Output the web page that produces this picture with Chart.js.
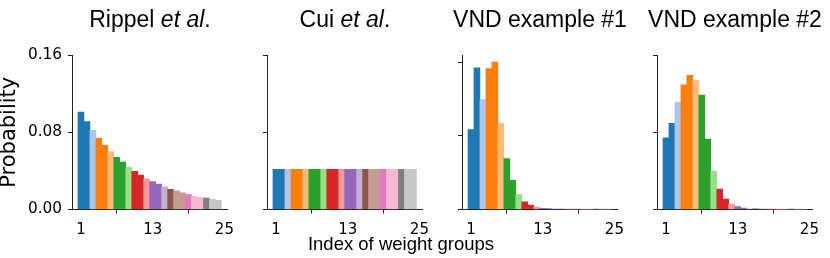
<!DOCTYPE html>
<html><head><meta charset="utf-8">
<script src="https://cdn.jsdelivr.net/npm/chart.js@4.4.0/dist/chart.umd.min.js"></script>
<style>
html,body{margin:0;padding:0;background:#fff;width:830px;height:258px;overflow:hidden;position:relative}
.p{position:absolute;top:0}
#xlabel{position:absolute;left:251px;width:300px;top:233px;line-height:22px;text-align:center;font-family:"Liberation Sans",Arial,sans-serif;font-size:18.5px;color:#000;white-space:nowrap}
</style></head><body>
<div class="p" id="w0"><canvas id="c0"></canvas></div>
<div class="p" id="w1"><canvas id="c1"></canvas></div>
<div class="p" id="w2"><canvas id="c2"></canvas></div>
<div class="p" id="w3"><canvas id="c3"></canvas></div>
<div id="xlabel">Index of weight groups</div>
<script>
// ---- data ----
const groupIndex = [1,2,3,4,5,6,7,8,9,10,11,12,13,14,15,16,17,18,19,20,21,22,23,24];
const rippel = [0.101,0.091,0.082,0.074,0.0665,0.060,0.054,0.049,0.0436,0.0394,0.0357,0.0318,0.029,0.0263,0.0235,0.021,0.0193,0.0172,0.0154,0.0137,0.0127,0.0117,0.0106,0.0096];
const cui = [0.0417,0.0417,0.0417,0.0417,0.0417,0.0417,0.0417,0.0417,0.0417,0.0417,0.0417,0.0417,0.0417,0.0417,0.0417,0.0417,0.0417,0.0417,0.0417,0.0417,0.0417,0.0417,0.0417,0.0417];
const vnd1 = [0.087,0.154,0.1196,0.1533,0.1604,0.0935,0.0554,0.0318,0.0166,0.0083,0.0047,0.0025,0.0014,0.001,0.0006,0.0004,0.0003,0.0002,0.0002,0.0001,0.0001,0.0001,0.0001,0.0001];
const vnd2 = [0.0743,0.0892,0.1113,0.129,0.139,0.1338,0.1186,0.0729,0.0397,0.0211,0.0107,0.0055,0.0031,0.0014,0.0008,0.0006,0.0005,0.0003,0.0002,0.0002,0.0001,0.0001,0.0001,0.0001];
const colorIndex = [0,0,1,2,2,3,4,4,5,6,6,7,8,8,9,10,11,11,12,13,13,14,15,15];
const palette = ['#1f77b4','#aec7e8','#ff7f0e','#ffbb78','#2ca02c','#98df8a','#d62728','#ff9896','#9467bd','#c5b0d5','#8c564b','#c49c94','#e377c2','#f7b6d2','#7f7f7f','#c7c7c7'];
const titleParts = [
  [{text:'Rippel ',italic:false},{text:'et al',italic:true},{text:'.',italic:false}],
  [{text:'Cui ',italic:false},{text:'et al',italic:true},{text:'.',italic:false}],
  [{text:'VND example #1',italic:false}],
  [{text:'VND example #2',italic:false}]
];
const xTickValues = [1,13,25];
const xTickLabels = ['1','13','25'];
const yTickValues = [0,0.08,0.16];
const yTickLabels = ['0.00','0.08','0.16'];
const yLabel = 'Probability';
const yMax = [0.16,0.16,0.168,0.16];

// ---- layout ----
const series = [rippel,cui,vnd1,vnd2];
const axisLeft = [72,267,462,657];
const plotW = 167;
const AX = '#222';

const panelTitle = {
  id:'panelTitle',
  afterDraw(chart, args, opts){
    const {ctx, chartArea} = chart;
    const fam = opts.family, size = opts.size;
    ctx.save();
    ctx.fillStyle = '#000';
    ctx.textBaseline = 'alphabetic';
    ctx.textAlign = 'left';
    const font = p => (p.italic?'italic ':'') + size + 'px ' + fam;
    const widths = opts.parts.map(p => { ctx.font = font(p); return ctx.measureText(p.text).width; });
    const total = widths.reduce((a,b)=>a+b,0);
    let x = (chartArea.left + chartArea.right)/2 - total/2;
    opts.parts.forEach((p,i) => { ctx.font = font(p); ctx.fillText(p.text, x, opts.y); x += widths[i]; });
    ctx.restore();
  }
};

function makeChart(i){
  const first = i === 0;
  const yW = first ? 72 : 12;
  const wrap = document.getElementById('w'+i);
  const cv = document.getElementById('c'+i);
  const W = yW + plotW + 3;
  wrap.style.left = (axisLeft[i]-yW)+'px';
  cv.width = W; cv.height = 258;
  cv.style.width = W+'px'; cv.style.height = '258px';
  new Chart(cv, {
    type:'bar',
    data:{datasets:[{
      data: groupIndex.map((g,k)=>({x:g, y:series[i][k]})),
      backgroundColor: colorIndex.map(c=>palette[c]),
      borderWidth:0,
      categoryPercentage:1.0,
      barPercentage:1.0
    }]},
    options:{
      responsive:false, animation:false, devicePixelRatio:1,
      layout:{padding:{top:55,right:3,left:0,bottom:0}},
      plugins:{
        legend:{display:false}, tooltip:{enabled:false},
        panelTitle:{parts:titleParts[i], family:'"Liberation Sans", Arial, sans-serif', size:23, y:27}
      },
      scales:{
        x:{
          type:'linear', min:-0.5, max:25.6, offset:false,
          afterBuildTicks: s => { s.ticks = xTickValues.map(v=>({value:v})); },
          afterFit: s => { s.height = 48.5; },
          grid:{drawOnChartArea:false, drawTicks:true, tickLength:4, color:AX, lineWidth:1},
          border:{display:true, color:AX, width:1},
          ticks:{font:{family:'"DejaVu Sans"', size:15}, color:'#000', padding:8, maxRotation:0, autoSkip:false,
                 callback:(v,idx)=>xTickLabels[idx]}
        },
        y:{
          type:'linear', min:0, max:yMax[i],
          afterBuildTicks: s => { s.ticks = yTickValues.map(v=>({value:v})); },
          afterFit: s => { s.width = yW; },
          grid:{drawOnChartArea:false, drawTicks:true, tickLength:4, color:AX, lineWidth:1},
          border:{display:true, color:AX, width:1},
          ticks:{display:first, font:{family:'"DejaVu Sans"', size:15.3}, color:'#000', padding:6,
                 callback:(v,idx)=>yTickLabels[idx]},
          title:{display:first, text:yLabel, color:'#000', padding:0,
                 font:{family:'"DejaVu Sans"', size:21, lineHeight:0.95}}
        }
      }
    },
    plugins:[panelTitle]
  });
}
for(let i=0;i<4;i++) makeChart(i);
</script>
</body></html>
